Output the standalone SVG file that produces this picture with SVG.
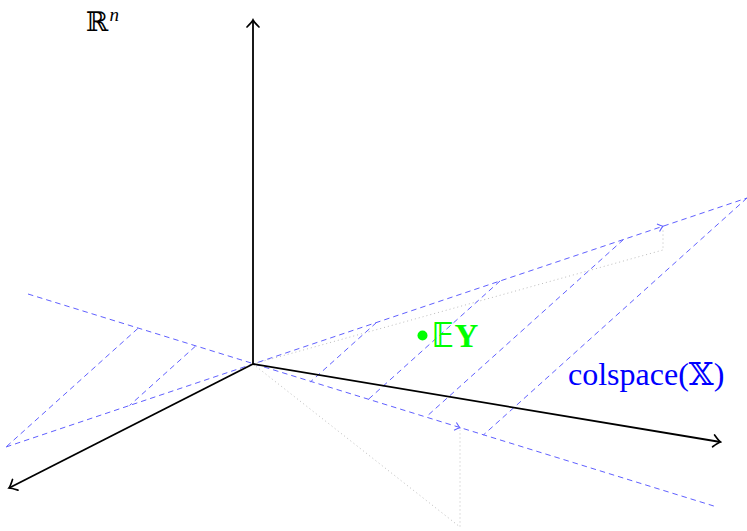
<svg xmlns="http://www.w3.org/2000/svg" xmlns:xlink="http://www.w3.org/1999/xlink" width="747" height="531" viewBox="0 0 747 531">
  <defs>
    <style>
      .axis { stroke: #000; stroke-width: 1.8; fill: none; }
      .plane { stroke: #6060ff; stroke-width: 1; fill: none; stroke-dasharray: 5.5 4; }
      .proj { stroke: #bdbdbd; stroke-width: 1; fill: none; stroke-dasharray: 1 3; }
      .lbl { font-family: "Liberation Serif", "DejaVu Serif", "DejaVu Sans", serif; }
    </style>
    <marker id="arrK" markerUnits="userSpaceOnUse" viewBox="-9 -8 11 16" markerWidth="11" markerHeight="16" refX="0" refY="0" orient="auto">
      <path d="M-7,-6 Q-2,-1 0,0 Q-2,1 -7,6" fill="none" stroke="#000" stroke-width="1.7" stroke-linecap="round"/>
    </marker>
    <path id="tipB" d="M-5,-4 Q-1.5,-0.8 0,0 Q-1.5,0.8 -5,4" fill="none" stroke="#6060ff" stroke-width="1.1"/>
  </defs>

  <g id="connectors">
    <!-- grey dotted projections -->
    <path class="proj" d="M253,364 L663,250 L663,228"/>
    <path class="proj" d="M253,364 L460,527 L460,430"/>

    <!-- plane lines -->
    <path class="plane" d="M6,447 L747,198"/>
    <path class="plane" d="M28,294 L713.8,506"/>
    <path class="plane" d="M376.5,322.5 L310.6,381.75"/>
    <path class="plane" d="M500,281 L368.2,399.5"/>
    <path class="plane" d="M623.5,239.5 L425.8,417.25"/>
    <path class="plane" d="M747,198 L483.4,435"/>
    <path class="plane" d="M195.4,346.25 L129.5,405.5"/>
    <path class="plane" d="M137.8,328.5 L6,447"/>

    <!-- vector tips -->
    <use xlink:href="#tipB" transform="translate(663,226.2) rotate(-18.55)"/>
    <use xlink:href="#tipB" transform="translate(460,427.8) rotate(17.13)"/>

    <!-- axes -->
    <path id="axis-z" class="axis" d="M253,364 L253,20" marker-end="url(#arrK)"/>
    <path id="axis-x" class="axis" d="M253,364 L9,488" marker-end="url(#arrK)"/>
    <path id="axis-y" class="axis" d="M253,364 L720.5,442" marker-end="url(#arrK)"/>
  </g>

  <g id="node-Rn">
    <text class="lbl" x="86" y="31" font-size="27">ℝ<tspan font-style="italic" font-size="19" dy="-10" dx="1">n</tspan></text>
  </g>

  <g id="node-EY">
    <circle cx="422.5" cy="335.5" r="5" fill="#00ff00"/>
    <text class="lbl" x="432" y="347" font-size="33" font-weight="bold" fill="#00ff00">𝔼Y</text>
  </g>

  <g id="node-colspace">
    <text class="lbl" x="568" y="385" font-size="32" fill="#0000ff">colspace(𝕏)</text>
  </g>
</svg>
